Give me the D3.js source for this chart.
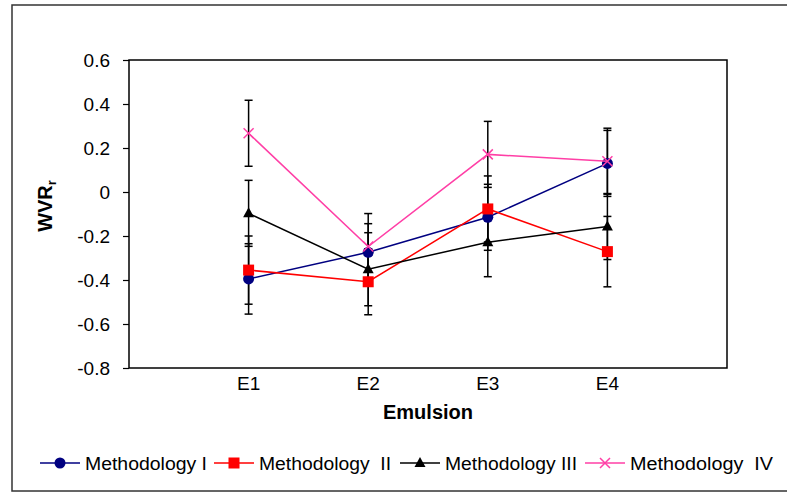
<!DOCTYPE html>
<html>
<head>
<meta charset="utf-8">
<script src="https://cdn.jsdelivr.net/npm/d3@7"></script>
<style>
    body { margin: 0; background: #fff; }
    svg { display: block; font-family: "Liberation Sans", Arial, sans-serif; }
</style>
</head>
<body>
<svg id="chart"></svg>
<script>
const emulsions = ['E1', 'E2', 'E3', 'E4'];
const yTicks = [0.6, 0.4, 0.2, 0, -0.2, -0.4, -0.6, -0.8];

const methodologyI = [-0.395, -0.274, -0.115, 0.13];
const methodologyIErr = [0.16, 0.13, 0.15, 0.15];
const methodologyII = [-0.355, -0.408, -0.077, -0.271];
const methodologyIIErr = [0.155, 0.15, 0.15, 0.16];
const methodologyIII = [-0.097, -0.351, -0.228, -0.157];
const methodologyIIIErr = [0.15, 0.166, 0.157, 0.15];
const methodologyIV = [0.267, -0.248, 0.171, 0.14];
const methodologyIVErr = [0.15, 0.15, 0.15, 0.15];

const seriesNames = ['Methodology I', 'Methodology  II', 'Methodology III', 'Methodology  IV'];

const props = {
    width: 787, height: 494,
    plot: { left: 129, right: 727, top: 60, bottom: 368 },
    colors: ['#000080', '#ff0000', '#000000', '#ff3fa6'],
    symbols: ['circle', 'square', 'triangle', 'cross'],
    legend: { starts: [40, 214, 400, 585], textWidths: [122, 132, 132, 143] }
};

function ErrorChart() {
    let svg, xScale, yScale, series;

    this.init = function() {
        series = [
            { name: seriesNames[0], values: methodologyI, errors: methodologyIErr },
            { name: seriesNames[1], values: methodologyII, errors: methodologyIIErr },
            { name: seriesNames[2], values: methodologyIII, errors: methodologyIIIErr },
            { name: seriesNames[3], values: methodologyIV, errors: methodologyIVErr }
        ];
        series.forEach(function(s, i) {
            s.color = props.colors[i];
            s.symbol = props.symbols[i];
        });
        initSvg();
        initScales();
        drawFrames();
        drawAxes();
        drawErrorBars();
        drawLines();
        drawLabels();
        drawLegend();
    };

    function initSvg() {
        svg = d3.select('#chart')
            .attr('width', props.width)
            .attr('height', props.height);
        svg.append('rect')
            .attr('x', 12).attr('y', 5)
            .attr('width', 800).attr('height', 486)
            .attr('fill', '#fff')
            .attr('stroke', '#333')
            .attr('stroke-width', 1.5);
    }

    function initScales() {
        xScale = d3.scalePoint()
            .domain(emulsions)
            .range([props.plot.left, props.plot.right])
            .padding(1);
        yScale = d3.scaleLinear()
            .domain([-0.8, 0.6])
            .range([props.plot.bottom, props.plot.top]);
    }

    function drawFrames() {
        svg.append('rect')
            .attr('x', props.plot.left)
            .attr('y', props.plot.top)
            .attr('width', props.plot.right - props.plot.left)
            .attr('height', props.plot.bottom - props.plot.top)
            .attr('fill', 'none')
            .attr('stroke', '#000')
            .attr('stroke-width', 1.5);
    }

    function drawAxes() {
        // Excel style labels: plain hyphen, not the unicode minus
        const yAxis = d3.axisLeft(yScale)
            .tickValues(yTicks)
            .tickFormat(function(d) { return d === 0 ? '0' : d.toFixed(1); })
            .tickSize(6)
            .tickPadding(13);
        const g = svg.append('g')
            .attr('transform', 'translate(' + props.plot.left + ',0)')
            .call(yAxis);
        g.select('.domain').remove();
        g.selectAll('line').attr('stroke', '#000').attr('stroke-width', 1.2);
        g.selectAll('text')
            .attr('font-size', 19)
            .attr('font-family', '"Liberation Sans", Arial, sans-serif')
            .attr('fill', '#000');

        svg.append('g').selectAll('text')
            .data(emulsions)
            .join('text')
            .attr('x', function(d) { return xScale(d); })
            .attr('y', props.plot.bottom + 22)
            .attr('text-anchor', 'middle')
            .attr('font-size', 19)
            .text(function(d) { return d; });
    }

    function drawErrorBars() {
        const g = svg.append('g');
        series.forEach(function(s) {
            emulsions.forEach(function(e, i) {
                const x = xScale(e);
                const y1 = yScale(s.values[i] + s.errors[i]);
                const y2 = yScale(s.values[i] - s.errors[i]);
                g.append('line')
                    .attr('x1', x).attr('x2', x)
                    .attr('y1', y1).attr('y2', y2)
                    .attr('stroke', '#000').attr('stroke-width', 1.5);
                [y1, y2].forEach(function(y) {
                    g.append('line')
                        .attr('x1', x - 4).attr('x2', x + 4)
                        .attr('y1', y).attr('y2', y)
                        .attr('stroke', '#000').attr('stroke-width', 1.5);
                });
            });
        });
    }

    function marker(sel, s, x, y) {
        if (s.symbol === 'circle') {
            sel.append('circle')
                .attr('cx', x).attr('cy', y).attr('r', 5.5)
                .attr('fill', s.color);
        } else if (s.symbol === 'square') {
            sel.append('rect')
                .attr('x', x - 5.5).attr('y', y - 5.5)
                .attr('width', 11).attr('height', 11)
                .attr('fill', s.color);
        } else if (s.symbol === 'triangle') {
            sel.append('path')
                .attr('d', 'M' + x + ',' + (y - 6) + 'L' + (x + 5.5) + ',' + (y + 4) + 'L' + (x - 5.5) + ',' + (y + 4) + 'Z')
                .attr('fill', s.color);
        } else {
            sel.append('path')
                .attr('d', 'M' + (x - 5) + ',' + (y - 5) + 'L' + (x + 5) + ',' + (y + 5)
                    + 'M' + (x - 5) + ',' + (y + 5) + 'L' + (x + 5) + ',' + (y - 5))
                .attr('stroke', s.color).attr('stroke-width', 1.5)
                .attr('fill', 'none');
        }
    }

    function drawLines() {
        const line = d3.line()
            .x(function(d, i) { return xScale(emulsions[i]); })
            .y(function(d) { return yScale(d); });
        series.forEach(function(s) {
            const g = svg.append('g');
            g.append('path')
                .attr('d', line(s.values))
                .attr('fill', 'none')
                .attr('stroke', s.color)
                .attr('stroke-width', 1.5);
            s.values.forEach(function(v, i) {
                marker(g, s, xScale(emulsions[i]), yScale(v));
            });
        });
    }

    function drawLabels() {
        const cx = (props.plot.left + props.plot.right) / 2;
        svg.append('text')
            .attr('x', cx)
            .attr('y', 419)
            .attr('text-anchor', 'middle')
            .attr('font-size', 20)
            .attr('font-weight', 'bold')
            .text('Emulsion');

        const yl = svg.append('text')
            .attr('transform', 'translate(52,206) rotate(-90)')
            .attr('text-anchor', 'middle')
            .attr('font-size', 20)
            .attr('font-weight', 'bold');
        yl.append('tspan').text('WVR');
        yl.append('tspan')
            .attr('font-size', 13)
            .attr('dy', 4)
            .text('r');
    }

    function drawLegend() {
        series.forEach(function(s, i) {
            const g = svg.append('g');
            const x0 = props.legend.starts[i];
            g.append('line')
                .attr('x1', x0).attr('x2', x0 + 40)
                .attr('y1', 463).attr('y2', 463)
                .attr('stroke', s.color).attr('stroke-width', 1.5);
            marker(g, s, x0 + 20, 463);
            g.append('text')
                .attr('x', x0 + 45)
                .attr('y', 470)
                .attr('font-size', 18)
                .attr('textLength', props.legend.textWidths[i])
                .attr('lengthAdjust', 'spacingAndGlyphs')
                .style('white-space', 'pre')
                .text(s.name);
        });
    }
}

new ErrorChart().init();
</script>
</body>
</html>
